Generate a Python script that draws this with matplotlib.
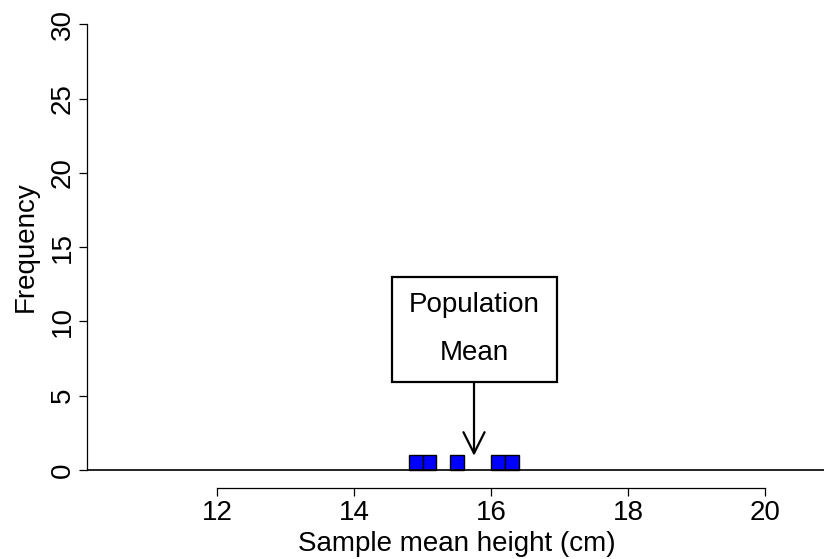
import numpy as np
import matplotlib
matplotlib.use("Agg")
import matplotlib.pyplot as plt
from matplotlib.patches import Rectangle

plt.rcParams["font.family"] = ["Liberation Sans", "DejaVu Sans"]

# sample means drawn so far (one block each)
sample_means = [14.9, 15.1, 15.5, 16.1, 16.3]
bin_width = 0.2
x_ticks = [12, 14, 16, 18, 20]
y_ticks = [0, 5, 10, 15, 20, 25, 30]
population_mean = 15.75
box_label = ["Population", "Mean"]

fig = plt.figure(figsize=(8.24, 5.59), dpi=100)
ax = fig.add_axes([0.106, 0.1275, 0.897, 0.861])

bins = np.round(np.arange(10.0, 21.0 + bin_width / 2, bin_width), 2)
counts, _ = np.histogram(sample_means, bins=bins)
ax.bar(bins[:-1][counts > 0], counts[counts > 0], width=bin_width, align="edge",
       color="#0000ff", edgecolor="black", linewidth=1.0, zorder=2)

ax.set_xlim(10.1, 20.9)
ax.set_ylim(-1.2, 31.2)

# baseline at zero across the plot
ax.axhline(0, color="black", linewidth=1.2, zorder=3)

for side in ["top", "right"]:
    ax.spines[side].set_visible(False)
ax.spines["left"].set_bounds(0, 30)
ax.spines["bottom"].set_bounds(12, 20)
for side in ["left", "bottom"]:
    ax.spines[side].set_linewidth(0.9)

ax.set_xticks(x_ticks)
ax.set_yticks(y_ticks)
ax.set_yticklabels([str(v) for v in y_ticks], rotation=90, va="center")
ax.tick_params(axis="both", length=5.5, width=0.9, labelsize=20, pad=3)
ax.set_xlabel("Sample mean height (cm)", fontsize=20, labelpad=4)
ax.set_ylabel("Frequency", fontsize=20, labelpad=8)

# annotation box with arrow pointing at the population mean
box_left, box_right = 14.55, 16.96
box_bottom, box_top = 5.95, 13.0
ax.add_patch(Rectangle((box_left, box_bottom), box_right - box_left, box_top - box_bottom,
                       facecolor="white", edgecolor="black", linewidth=1.6, zorder=4))
ax.text(population_mean, 11.1, box_label[0], ha="center", va="center", fontsize=20, zorder=5)
ax.text(population_mean, 7.9, box_label[1], ha="center", va="center", fontsize=20, zorder=5)
ax.annotate("", xy=(population_mean, 0.95), xytext=(population_mean, box_bottom),
            arrowprops=dict(arrowstyle="->", color="black", lw=1.6,
                            mutation_scale=38, shrinkA=0, shrinkB=0))

fig.savefig("out.png", dpi=100)
